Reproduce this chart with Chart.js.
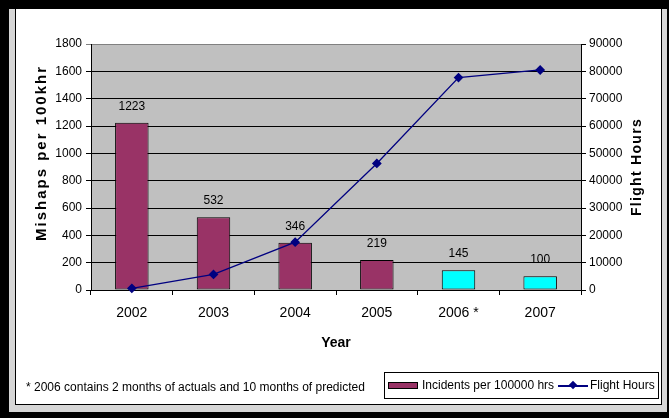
<!DOCTYPE html>
<html>
<head>
<meta charset="utf-8">
<script src="https://cdn.jsdelivr.net/npm/chart.js@4/dist/chart.umd.min.js"></script>
<style>
  html, body { margin: 0; padding: 0; }
  body { width: 669px; height: 418px; background: #000; position: relative; overflow: hidden;
         font-family: 'Liberation Sans', Arial, sans-serif; color: #000; }
  .frame { position: absolute; left: 9px; top: 9px; width: 658px; height: 403px; background: #d6d6d6; }
  .inner { position: absolute; left: 15px; top: 9px; width: 645px; height: 395px; background: #fff;
           border: 1px solid #000; border-top: none; }
  #chart { position: absolute; left: 0; top: 0; }
  .note { position: absolute; left: 26px; top: 379px; font-size: 12px; line-height: 16px; white-space: nowrap; }
  .legend { position: absolute; left: 384px; top: 372px; width: 273px; height: 25px; border: 1px solid #000; background: #fff; font-size: 12px; }
  .legend span { position: absolute; white-space: nowrap; }
  .sw-bar { left: 3px; top: 9px; width: 28px; height: 5px; background: #993366; border: 1px solid #000; }
  .lt1 { left: 37px; top: 5px; line-height: 15px; }
  .sw-line { left: 173px; top: 12px; width: 30px; height: 1.5px; background: #000080; }
  .sw-line i { position: absolute; left: 12px; top: -3px; width: 6px; height: 6px; background: #000080; transform: rotate(45deg); }
  .lt2 { left: 205px; top: 5px; line-height: 15px; }
</style>
</head>
<body>
<div class="frame"></div>
<div class="inner"></div>
<canvas id="chart" width="669" height="418"></canvas>
<div class="note">* 2006 contains 2 months of actuals and 10 months of predicted</div>
<div class="legend">
  <span class="sw-bar"></span><span class="lt1">Incidents per 100000 hrs</span>
  <span class="sw-line"><i></i></span><span class="lt2">Flight Hours</span>
</div>
<script>
  const years = ['2002', '2003', '2004', '2005', '2006 *', '2007'];
  const incidents = [1223, 532, 346, 219, 145, 100];
  const flightHours = [600, 5700, 17500, 46300, 77700, 80500];
  const barColors = ['#993366', '#993366', '#993366', '#993366', '#00FFFF', '#00FFFF'];

  Chart.defaults.font.family = "'Liberation Sans', Arial, sans-serif";
  Chart.defaults.color = '#000';

  // grey plot background like the Excel original
  const plotBg = {
    id: 'plotBg',
    beforeDraw(chart) {
      const { ctx, chartArea: a } = chart;
      ctx.save();
      ctx.fillStyle = '#c0c0c0';
      ctx.fillRect(a.left, a.top, a.right - a.left, a.bottom - a.top);
      ctx.restore();
    },
  };

  // value labels above the bars
  const barLabels = {
    id: 'barLabels',
    afterDatasetsDraw(chart) {
      const ctx = chart.ctx;
      const meta = chart.getDatasetMeta(1);
      ctx.save();
      ctx.font = "12px 'Liberation Sans', Arial, sans-serif";
      ctx.fillStyle = '#000';
      ctx.textAlign = 'center';
      ctx.textBaseline = 'alphabetic';
      meta.data.forEach((bar, i) => {
        ctx.fillText(String(incidents[i]), bar.x, bar.y - 13);
      });
      ctx.restore();
    },
  };

  // axis titles in the original are spaced out a bit, and both read bottom-to-top
  const spacedTitles = {
    id: 'spacedTitles',
    afterLayout(chart) {
      [['y', '2px', -14, false], ['y1', '1.3px', 0, true]].forEach(([id, gap, shift, flip]) => {
        const scale = chart.scales[id];
        if (!scale || scale._spaced) return;
        const orig = scale.drawTitle;
        scale.drawTitle = function () {
          const ctx = this.ctx;
          ctx.save();
          ctx.letterSpacing = gap;
          ctx.translate(0, shift);
          if (flip) {
            const cx = this.right - (14 * 1.2) / 2 - 4;
            const cy = (this.top + this.bottom) / 2;
            ctx.translate(cx, cy);
            ctx.rotate(Math.PI);
            ctx.translate(-cx, -cy);
          }
          orig.apply(this, arguments);
          ctx.restore();
        };
        scale._spaced = true;
      });
    },
  };

  const plain = (v) => String(v);

  new Chart(document.getElementById('chart'), {
    data: {
      labels: years,
      datasets: [
        {
          type: 'line',
          label: 'Flight Hours',
          data: flightHours,
          yAxisID: 'y1',
          borderColor: '#000080',
          backgroundColor: '#000080',
          borderWidth: 1.3,
          tension: 0,
          pointStyle: 'rectRot',
          pointRadius: 4,
          pointBackgroundColor: '#000080',
          pointBorderColor: '#000080',
          clip: false,
          order: 0,
        },
        {
          type: 'bar',
          label: 'Incidents per 100000 hrs',
          data: incidents,
          yAxisID: 'y',
          backgroundColor: barColors,
          borderColor: '#000',
          borderWidth: 1,
          borderSkipped: false,
          categoryPercentage: 1,
          barPercentage: 0.41,
          order: 1,
        },
      ],
    },
    options: {
      responsive: false,
      animation: false,
      devicePixelRatio: 1,
      layout: { padding: { left: 29, right: 19, top: 44, bottom: 66 } },
      plugins: { legend: { display: false }, tooltip: { enabled: false } },
      scales: {
        x: {
          offset: true,
          grid: { offset: true, drawOnChartArea: false, drawTicks: true, tickLength: 5, color: '#000' },
          border: { color: '#000' },
          ticks: { font: { size: 14 }, padding: 10, maxRotation: 0 },
          title: { display: true, text: 'Year', font: { size: 14, weight: 'bold' }, padding: { top: 4, bottom: 0 } },
          afterFit(s) { s.height = 62; },
        },
        y: {
          position: 'left',
          min: 0,
          max: 1800,
          ticks: { stepSize: 200, font: { size: 12 }, padding: 4, callback: plain },
          grid: {
            color: (c) => (c.tick && c.tick.value === 1800 ? '#808080' : '#000'),
            tickLength: 5,
          },
          border: { color: '#000' },
          title: { display: true, text: 'Mishaps per 100khr', font: { size: 15, weight: 'bold' }, padding: { top: 4, bottom: 4 } },
          afterFit(s) { s.width = 62; },
        },
        y1: {
          position: 'right',
          min: 0,
          max: 90000,
          ticks: { stepSize: 10000, font: { size: 12 }, padding: 3, callback: plain },
          grid: { drawOnChartArea: false, tickLength: 5, color: '#000' },
          border: { color: '#000' },
          title: { display: true, text: 'Flight Hours', font: { size: 14, weight: 'bold' }, padding: { top: 4, bottom: 4 } },
          afterFit(s) { s.width = 69; },
        },
      },
    },
    plugins: [plotBg, barLabels, spacedTitles],
  });
</script>
</body>
</html>
